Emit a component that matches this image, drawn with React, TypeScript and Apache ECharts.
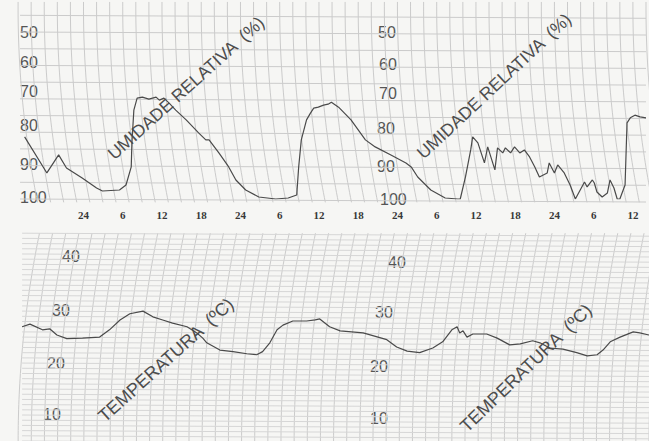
import React, { useEffect, useRef } from "react";
import * as echarts from "echarts";

// ---- Data ----
const humidityHours = [15.0, 18.4, 20.2, 21.4, 23.8, 26.0, 26.9, 29.5, 30.5, 31.3, 31.4, 31.7, 32.2, 33.0, 34.0, 35.1, 35.6, 36.3, 37.1, 38.1, 39.7, 41.6, 42.7, 43.2, 44.7, 46.2, 47.3, 48.8, 50.8, 53.4, 55.3, 56.6, 56.9, 57.3, 58.1, 58.7, 59.2, 59.9, 60.7, 61.4, 61.9, 63.0, 64.9, 67.1, 68.6, 71.0, 73.3, 74.1, 75.1, 77.1, 79.3, 81.2, 81.6, 82.4, 83.2, 83.5, 84.3, 85.3, 85.8, 86.9, 87.3, 88.1, 88.5, 89.3, 89.9, 90.7, 91.4, 92.2, 93.0, 93.7, 94.9, 95.2, 96.0, 96.5, 97.5, 98.4, 99.2, 100.6, 101.0, 101.8, 102.1, 102.5, 103.3, 104.1, 104.5, 105.1, 105.6, 106.0, 106.8, 107.1, 107.6, 108.3, 109.1, 110.0];
const humidityValues = [81.4, 92.2, 86.8, 90.7, 93.7, 96.7, 97.6, 97.3, 95.8, 90.4, 83.2, 73.4, 69.8, 69.5, 70.1, 69.5, 70.4, 69.8, 71.3, 73.4, 76.3, 80.2, 82.3, 82.3, 86.2, 90.4, 94.3, 97.3, 99.4, 100, 99.7, 98.8, 90.4, 82.3, 76.3, 74.3, 72.8, 72.5, 71.9, 71.6, 71.0, 72.5, 76.3, 82.3, 84.4, 86.8, 89.2, 90.4, 93.4, 97.3, 99.7, 100, 100, 93.4, 85.3, 81.4, 83.2, 89.2, 84.4, 91.3, 84.7, 86.2, 84.7, 86.2, 84.4, 86.2, 85.3, 87.4, 90.4, 93.4, 92.2, 89.2, 92.2, 89.8, 92.2, 95.8, 100, 94.9, 96.4, 94.3, 95.2, 97.9, 99.4, 98.2, 94.3, 96.7, 100, 100, 95.8, 77.2, 75.7, 74.9, 75.4, 75.7];

const temperatureHours = [14.6, 15.8, 17.7, 18.8, 19.9, 21.4, 23.8, 26.4, 27.9, 29.5, 31.0, 33.0, 34.5, 36.0, 37.5, 39.7, 41.2, 42.1, 42.7, 44.7, 46.7, 48.8, 50.3, 51.2, 52.3, 53.4, 54.3, 55.8, 57.9, 59.2, 59.9, 61.4, 63.0, 66.5, 70.1, 71.6, 73.2, 75.1, 77.1, 78.6, 80.0, 80.8, 81.2, 81.7, 82.3, 83.2, 85.3, 86.9, 88.8, 90.4, 92.3, 93.4, 94.9, 96.9, 99.0, 100.6, 102.1, 103.0, 104.1, 105.6, 107.6, 108.6, 110.0];
const temperatureValues = [27.0, 27.5, 26.4, 26.6, 25.4, 24.7, 24.8, 25.0, 26.4, 28.3, 29.5, 30.0, 28.9, 28.3, 27.7, 27.0, 25.8, 24.8, 23.9, 22.5, 22.2, 21.8, 21.6, 22.2, 23.9, 26.4, 27.3, 28.1, 28.1, 28.3, 28.5, 27.0, 26.2, 25.8, 24.5, 23.1, 22.3, 22.0, 22.9, 24.1, 26.4, 27.0, 25.8, 26.2, 25.0, 25.6, 25.6, 24.8, 23.5, 23.7, 24.3, 23.9, 22.9, 22.7, 22.0, 21.4, 21.6, 22.5, 24.1, 25.0, 26.0, 25.8, 25.4];

const humidityTickLabels = [50, 60, 70, 80, 90, 100];
const temperatureTickLabels = [10, 20, 30, 40];
const firstHourLabel = 24;

const HUM_TITLE = "UMIDADE RELATIVA  (%)";
const TEMP_TITLE = "TEMPERATURA  (ºC)";

const GRID_COLOR = "#cbcbcb";
const LABEL_COLOR = "#555";
const SANS = "'Liberation Sans', Arial, sans-serif";

function makeRich(prefix: string, values: number[], shifts: Record<number, [number, number]>) {
  const rich: any = {};
  values.forEach((v) => {
    const [dx, dy] = shifts[v] || [0, 0];
    rich[prefix + v] = {
      color: LABEL_COLOR,
      fontSize: 16,
      fontFamily: SANS,
      padding: [dy < 0 ? -2 * dy : 0, 0, dy > 0 ? 2 * dy : 0, dx],
    };
  });
  return rich;
}

function labelFormatter(prefix: string, values: number[]) {
  return (v: number) => (values.indexOf(v) >= 0 ? `{${prefix}${v}|${v}}` : "");
}

export default function App() {
  const ref = useRef<HTMLDivElement>(null);
  useEffect(() => {
    document.body.style.margin = "0";
    const chart = echarts.init(ref.current!, null, { renderer: "svg" });

    const vertHours: number[] = [];
    for (let t = 14; t <= 112; t += 2) vertHours.push(t);
    const humLines: number[] = [];
    for (let v = 45; v <= 100; v += 5) humLines.push(v);
    const tempLines: number[] = [];
    for (let v = 5; v <= 45; v += 1) tempLines.push(v);

    const humAxisBase = {
      type: "value",
      gridIndex: 0,
      min: 45,
      max: 100,
      interval: 5,
      inverse: true,
      axisLine: { show: false },
      axisTick: { show: false },
      splitLine: { show: false },
    };
    const tempAxisBase = {
      type: "value",
      gridIndex: 1,
      min: 5,
      max: 46,
      interval: 5,
      axisLine: { show: false },
      axisTick: { show: false },
      splitLine: { show: false },
    };

    const titleStyle = (size: number) => ({
      fill: "#4d4d4d",
      font: `${size}px ${SANS}`,
      align: "center",
      verticalAlign: "middle",
    });

    const option: any = {
      animation: false,
      backgroundColor: "#f6f6f4",
      grid: [
        { left: 5, right: 0, top: 15.3, bottom: 242 },
        { left: 5, right: 0, top: 228, bottom: 0 },
      ],
      xAxis: [
        {
          type: "value",
          gridIndex: 0,
          min: 12,
          max: 110,
          interval: 6,
          axisLine: { show: false },
          axisTick: { show: false },
          splitLine: { show: false },
          axisLabel: {
            margin: 10,
            color: "#383838",
            fontSize: 11,
            fontWeight: "bold",
            fontFamily: "'Liberation Serif', 'Times New Roman', serif",
            formatter: (v: number) =>
              v % 6 === 0 && v >= firstHourLabel ? String(v % 24 === 0 ? 24 : v % 24) : "",
          },
        },
        {
          type: "value",
          gridIndex: 1,
          min: 12,
          max: 110,
          show: false,
        },
      ],
      yAxis: [
        {
          ...humAxisBase,
          position: "left",
          offset: -15,
          axisLabel: {
            inside: true,
            margin: 0,
            formatter: labelFormatter("a", humidityTickLabels),
            rich: makeRich("a", humidityTickLabels, { 60: [0, 3], 70: [0, 7], 80: [0, 7], 90: [0, 1], 100: [0, 2] }),
          },
        },
        {
          ...humAxisBase,
          position: "left",
          offset: -372,
          axisLabel: {
            inside: true,
            margin: 0,
            formatter: labelFormatter("b", humidityTickLabels),
            rich: makeRich("b", humidityTickLabels, { 50: [1, 0], 60: [2, 1], 70: [2, 5], 80: [0, 4], 90: [0, -1], 100: [3, 0] }),
          },
        },
        {
          ...tempAxisBase,
          position: "left",
          offset: -38,
          axisLabel: {
            inside: true,
            margin: 0,
            formatter: labelFormatter("c", temperatureTickLabels),
            rich: makeRich("c", temperatureTickLabels, { 40: [19, 3], 30: [9, 1], 20: [4, 0], 10: [0, 1] }),
          },
        },
        {
          ...tempAxisBase,
          position: "left",
          offset: -365,
          axisLabel: {
            inside: true,
            margin: 0,
            formatter: labelFormatter("d", temperatureTickLabels),
            rich: makeRich("d", temperatureTickLabels, { 40: [18, -3], 30: [5, -1], 20: [0, -3], 10: [0, -3] }),
          },
        },
      ],
      graphic: [
        { type: "text", x: 186, y: 88, rotation: (42 * Math.PI) / 180, z: 5, style: { text: HUM_TITLE, ...titleStyle(17.5) } },
        { type: "text", x: 494, y: 86, rotation: (43 * Math.PI) / 180, z: 5, style: { text: HUM_TITLE, ...titleStyle(17.5) } },
        { type: "text", x: 166, y: 360, rotation: (42 * Math.PI) / 180, z: 5, style: { text: TEMP_TITLE, ...titleStyle(18) } },
        { type: "text", x: 526, y: 368, rotation: (44 * Math.PI) / 180, z: 5, style: { text: TEMP_TITLE, ...titleStyle(18) } },
      ],
      series: [
        // curved time lines, humidity chart
        {
          type: "custom",
          xAxisIndex: 0,
          yAxisIndex: 0,
          silent: true,
          z: 1,
          data: vertHours.map((t) => [t, 70]),
          renderItem: (params: any, api: any) => {
            const t = api.value(0);
            const pts: number[][] = [];
            for (let v = 41; v <= 101.9; v += 1.5) {
              const p = api.coord([t, Math.min(v, 101.8)]);
              const u = Math.max(0, (p[1] - 8) / 197);
              pts.push([p[0] + 20 * u * u, p[1]]);
            }
            return { type: "polyline", shape: { points: pts }, style: { stroke: GRID_COLOR, lineWidth: 1, fill: null } };
          },
        },
        // humidity horizontal lines
        {
          type: "custom",
          xAxisIndex: 0,
          yAxisIndex: 0,
          silent: true,
          z: 1,
          data: humLines.map((v) => [60, v]),
          renderItem: (params: any, api: any) => {
            const v = api.value(1);
            const a = api.coord([14.3, v]);
            const b = api.coord([110, v]);
            return {
              type: "line",
              shape: { x1: a[0], y1: a[1], x2: b[0], y2: b[1] + 3 },
              style: { stroke: GRID_COLOR, lineWidth: 1 },
            };
          },
        },
        // curved time lines, temperature chart
        {
          type: "custom",
          xAxisIndex: 1,
          yAxisIndex: 2,
          silent: true,
          z: 1,
          data: vertHours.map((t) => [t, 20]),
          renderItem: (params: any, api: any) => {
            const t = api.value(0);
            const pts: number[][] = [];
            for (let v = 4; v <= 45.7; v += 1) {
              const p = api.coord([t, Math.min(v, 45.6)]);
              const u = Math.max(0, (441 - p[1]) / 211);
              pts.push([p[0] + 22 * u * u, p[1]]);
            }
            return { type: "polyline", shape: { points: pts }, style: { stroke: GRID_COLOR, lineWidth: 1, fill: null } };
          },
        },
        // temperature horizontal lines
        {
          type: "custom",
          xAxisIndex: 1,
          yAxisIndex: 2,
          silent: true,
          z: 1,
          data: tempLines.map((v) => [60, v]),
          renderItem: (params: any, api: any) => {
            const v = api.value(1);
            const a = api.coord([14.6, v]);
            const b = api.coord([110, v]);
            return {
              type: "line",
              shape: { x1: a[0], y1: a[1], x2: b[0], y2: b[1] + 3 },
              style: { stroke: "#d6d6d6", lineWidth: 1 },
            };
          },
        },
        {
          type: "line",
          name: "Umidade relativa",
          xAxisIndex: 0,
          yAxisIndex: 0,
          z: 10,
          showSymbol: false,
          data: humidityHours.map((h, i) => [h, humidityValues[i]]),
          lineStyle: { color: "#4a4a4a", width: 1.2 },
        },
        {
          type: "line",
          name: "Temperatura",
          xAxisIndex: 1,
          yAxisIndex: 2,
          z: 10,
          showSymbol: false,
          data: temperatureHours.map((h, i) => [h, temperatureValues[i]]),
          lineStyle: { color: "#4a4a4a", width: 1.2 },
        },
      ],
    };
    chart.setOption(option);
    return () => chart.dispose();
  }, []);
  return <div ref={ref} style={{ width: 649, height: 441 }} />;
}
